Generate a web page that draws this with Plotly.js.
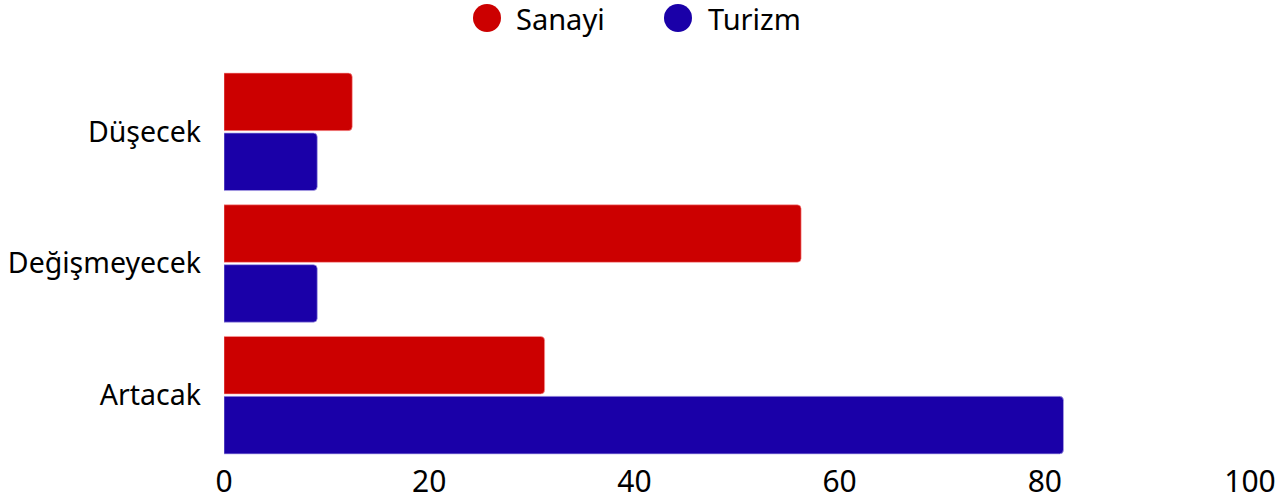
<!DOCTYPE html>
<html>
<head>
<meta charset="utf-8">
<script src="https://cdn.plot.ly/plotly-3.0.1.min.js"></script>
<style>html,body{margin:0;padding:0;background:#fff;}#chart{width:1283px;height:502px;}</style>
</head>
<body>
<div id="chart"></div>
<script>
var categories = ['Düşecek', 'Değişmeyecek', 'Artacak'];
var seriesNames = ['Sanayi', 'Turizm'];
var sanayiValues = [12.5, 56.25, 31.25];
var turizmValues = [9.09, 9.09, 81.82];
var xTicks = [0, 20, 40, 60, 80, 100];

var colors = ['#cc0000', '#1a00a8'];
var edge = ['rgba(255,160,160,0.6)', 'rgba(170,160,230,0.7)'];
var font = 'Noto Sans, DejaVu Sans, sans-serif';

var series = [sanayiValues, turizmValues];
var traces = series.map(function (vals, i) {
  return {
    type: 'bar', orientation: 'h', name: seriesNames[i],
    x: vals, y: categories, showlegend: false,
    marker: { color: colors[i], line: { color: edge[i], width: 1 } },
    hoverinfo: 'x+name'
  };
});

// legend drawn as circles + text (paper coordinates)
var plotL = 224, plotW = 1026, plotT = 66, plotH = 395;
function px(x) { return (x - plotL) / plotW; }
var legY = (plotT + plotH - 18) / plotH;
var legCircleX = [487, 678];
var legTextX = [514, 706];
var shapes = [], annotations = [];
seriesNames.forEach(function (n, i) {
  shapes.push({
    type: 'circle', xref: 'paper', yref: 'paper',
    xsizemode: 'pixel', ysizemode: 'pixel',
    xanchor: px(legCircleX[i]), yanchor: legY,
    x0: -14, x1: 14, y0: -14, y1: 14,
    fillcolor: colors[i], line: { width: 0 }
  });
  annotations.push({
    xref: 'paper', yref: 'paper', x: px(legTextX[i]), y: legY,
    xanchor: 'left', yanchor: 'middle', showarrow: false,
    text: n, font: { family: font, size: 29, color: '#000' }
  });
});

var layout = {
  width: 1283, height: 502,
  margin: { l: 224, r: 33, t: 66, b: 41 },
  paper_bgcolor: '#fff', plot_bgcolor: '#fff',
  font: { family: font, size: 28, color: '#000' },
  barmode: 'group', bargap: 0.09, bargroupgap: 0.04,
  barcornerradius: 4,
  showlegend: false,
  shapes: shapes, annotations: annotations,
  xaxis: {
    range: [0, 100], tickvals: xTicks, ticktext: xTicks.map(String),
    showgrid: false, zeroline: false, showline: false, ticks: '',
    automargin: false, ticklabelstandoff: 0,
    tickfont: { family: font, size: 30, color: '#000' }, fixedrange: true
  },
  yaxis: {
    type: 'category', categoryorder: 'array', categoryarray: categories,
    autorange: 'reversed', showgrid: false, zeroline: false, showline: false,
    automargin: false,
    ticks: '', ticklabelstandoff: 22, tickfont: { family: font, size: 28.5, color: '#000' }, fixedrange: true
  }
};

Plotly.newPlot('chart', traces, layout, { displayModeBar: false, staticPlot: true });
</script>
</body>
</html>
